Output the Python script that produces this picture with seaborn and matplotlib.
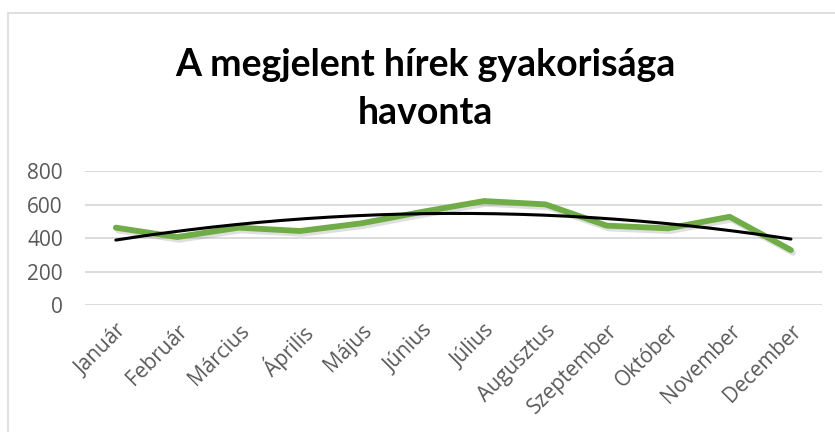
import matplotlib

matplotlib.use('Agg')
import matplotlib.pyplot as plt
import matplotlib.patheffects as pe
from matplotlib.patches import Rectangle

import numpy as np
import pandas as pd
import seaborn as sns

# data
months = ['Január', 'Február', 'Március', 'Április', 'Május', 'Június',
          'Július', 'Augusztus', 'Szeptember', 'Október', 'November', 'December']
counts = [462, 406, 462, 442, 488, 557, 621, 601, 474, 458, 527, 328]
yticks = [0, 200, 400, 600, 800]
title = 'A megjelent hírek gyakorisága\nhavonta'

sns.set_style('white')
plt.rcParams['font.family'] = ['Open Sans', 'DejaVu Sans']

df = pd.DataFrame({'month': months, 'count': counts})
df['pos'] = np.arange(len(months))

# polynomial (order 2) trendline like excel does
coef = np.polyfit(df['pos'], df['count'], 2)
trend_x = np.linspace(0, len(months) - 1, 200)
trend = pd.DataFrame({'pos': trend_x, 'count': np.polyval(coef, trend_x)})

fig = plt.figure(figsize=(8.35, 4.32), dpi=100)
ax = fig.add_axes([0.102, 0.294, 0.882, 0.31])

# chart border
fig.patches.append(Rectangle((8 / 835, -0.1), 1.1, 1 - 13 / 432 + 0.1,
                             transform=fig.transFigure, fill=False,
                             edgecolor='#D9D9D9', linewidth=1.2))

sns.lineplot(data=df, x='pos', y='count', ax=ax, color='#70AD47', linewidth=4.2,
             path_effects=[pe.SimpleLineShadow(offset=(1.5, -2), alpha=0.25, shadow_color='gray'),
                           pe.Normal()])
sns.lineplot(data=trend, x='pos', y='count', ax=ax, color='black', linewidth=2.2)

ax.set_xlim(-0.5, len(months) - 0.5)
ax.set_ylim(0, 800)
ax.set_yticks(yticks)
ax.yaxis.grid(True, color='#D9D9D9', linewidth=1.3)
ax.set_axisbelow(True)
sns.despine(ax=ax, left=True, bottom=True)
ax.set_xticks(df['pos'])
ax.set_xticklabels(months, rotation=45, ha='right', rotation_mode='anchor')
ax.tick_params(axis='both', length=0, labelsize=15, labelcolor='#595959')
ax.tick_params(axis='y', pad=16)
ax.tick_params(axis='x', pad=11)
ax.set_xlabel('')
ax.set_ylabel('')

fig.text(0.51, 0.795, title, ha='center', va='center', fontsize=27, color='black',
         fontweight='bold', linespacing=1.5, family=['Lato', 'DejaVu Sans'])

fig.savefig('out.png', dpi=100)
